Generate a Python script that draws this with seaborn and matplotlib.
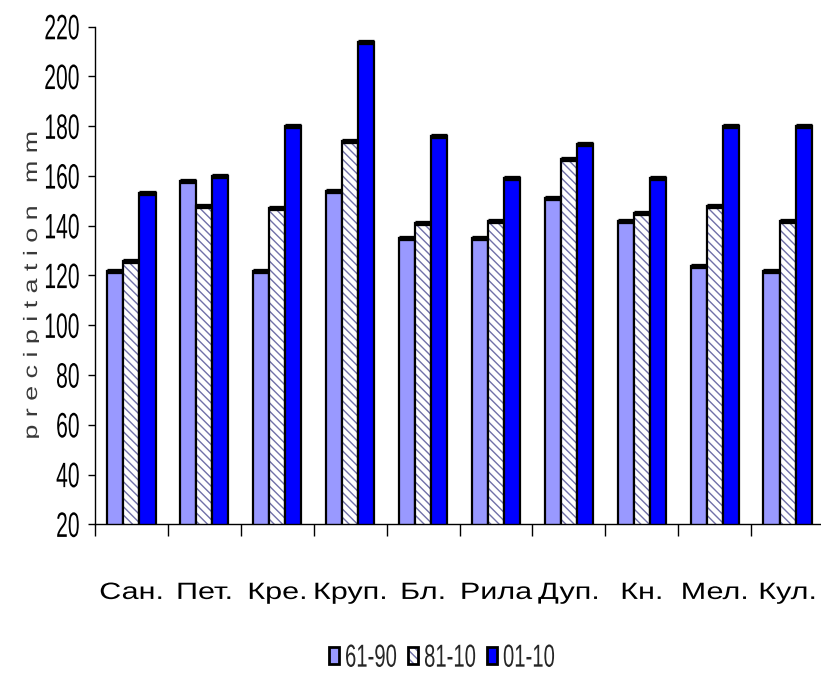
import matplotlib
matplotlib.use("Agg")
import matplotlib.pyplot as plt
from matplotlib.colors import to_rgba
from matplotlib.patheffects import AbstractPathEffect
from matplotlib.transforms import Affine2D, Bbox, TransformedBbox
from matplotlib.ticker import FixedLocator, NullFormatter
import pandas as pd
import seaborn as sns

# Precipitation (mm) per station for three reference periods
stations = ["Сан.", "Пет.", "Кре.", "Круп.", "Бл.", "Рила", "Дуп.", "Кн.", "Мел.", "Кул."]
periods = ["61-90", "81-10", "01-10"]
p_61_90 = [122, 158, 122, 154, 135, 135, 151, 142, 124, 122]
p_81_10 = [126, 148, 147, 174, 141, 142, 167, 145, 148, 142]
p_01_10 = [153, 160, 180, 214, 176, 159, 173, 159, 180, 180]
y_ticks = [20, 40, 60, 80, 100, 120, 140, 160, 180, 200, 220]
y_label = "p r e c i p i t a t i o n   m m"

bar_colors = ["#9999FF", "#FFFFFF", "#0000FF"]
hatch_color = "#7070A8"


class Stretch(AbstractPathEffect):
    """Draw text glyphs rescaled in their own frame (x along the baseline).

    Glyph outlines arrive in font units (100 per em); the y scale is taken
    about mid cap height so the text keeps its vertical alignment.
    """

    def __init__(self, sx=1.0, sy=1.0, anchor="center", y0=36.0):
        super().__init__()
        self.sx, self.sy = sx, sy
        self.anchor = anchor
        self.y0 = y0

    def draw_path(self, renderer, gc, tpath, affine, rgbFace=None):
        ext = tpath.get_extents()
        x0 = {"left": 0.0, "center": 0.5 * (ext.x0 + ext.x1), "right": ext.x1}[self.anchor]
        pre = (Affine2D().translate(-x0, -self.y0)
               .scale(self.sx, self.sy).translate(x0, self.y0))
        renderer.draw_path(gc, tpath, pre + affine, rgbFace)


sns.set_theme(style="white")
plt.rcParams["font.family"] = ["Liberation Sans", "DejaVu Sans"]
plt.rcParams["hatch.linewidth"] = 1.0

df = pd.DataFrame({
    "station": stations * 3,
    "period": [p for p in periods for _ in stations],
    "value": p_61_90 + p_81_10 + p_01_10,
})

W, H = 821, 676
fig = plt.figure(figsize=(W / 100, H / 100), dpi=100)
ax = fig.add_axes([95 / W, (H - 524.3) / H, 729 / W, 497.6 / H])

sns.barplot(data=df, x="station", y="value", hue="period", order=stations,
            hue_order=periods, palette=bar_colors, saturation=1, width=0.66,
            edgecolor="black", linewidth=1.6, legend=False, ax=ax)

# Diagonal hatching on the middle period
for p in ax.containers[1].patches:
    p.set_hatch("\\\\\\\\")
    if hasattr(p, "set_hatchcolor"):
        p.set_hatchcolor(hatch_color)
    else:
        p._hatch_color = to_rgba(hatch_color)

# Heavier top edge on every bar
for cont in ax.containers:
    for p in cont.patches:
        ax.hlines(p.get_height(), p.get_x(), p.get_x() + p.get_width(),
                  colors="black", linewidth=3.8, zorder=3)

ax.set_ylim(y_ticks[0], y_ticks[-1])
ax.set_xlim(-0.5, len(stations) - 0.5)
ax.set_yticks(y_ticks)
ax.set_yticklabels([str(v) for v in y_ticks], fontsize=15.2, color="black")
for lab in ax.get_yticklabels():
    lab.set_path_effects([Stretch(1.0, 1.67, "right")])
ax.tick_params(axis="y", left=True, length=5, width=1, color="black", pad=6)

ax.set_xticks(range(len(stations)))
ax.set_xticklabels(stations, fontsize=22, color="black")
for lab in ax.get_xticklabels():
    lab.set_path_effects([Stretch(1.0, 0.77, "center")])
ax.tick_params(axis="x", which="major", length=0, pad=39)
ax.xaxis.set_minor_locator(FixedLocator([i - 0.5 for i in range(len(stations) + 1)]))
ax.xaxis.set_minor_formatter(NullFormatter())
ax.tick_params(axis="x", which="minor", bottom=True, length=8.6, width=1, color="black")

ax.set_xlabel("")
ax.set_ylabel("")
sns.despine(ax=ax)
for side in ["left", "bottom"]:
    ax.spines[side].set_color("black")
    ax.spines[side].set_linewidth(1.0)

# Rotated axis title, cut along its baseline
t = fig.text(37 / W, 1 - 285 / H, y_label, rotation=90, rotation_mode="anchor",
             ha="center", va="baseline", fontsize=14, color="#3a3a3a")
t.set_path_effects([Stretch(1.38, 1.0, "center")])
t.set_clip_box(TransformedBbox(Bbox([[0, 0], [38.5 / W, 1]]), fig.transFigure))
t.set_clip_on(True)

handles = [c.patches[0] for c in ax.containers]
leg = fig.legend(handles, periods, loc="center left", bbox_to_anchor=(329 / W, 1 - 657 / H),
                 ncol=3, frameon=False, handlelength=0.49, handleheight=0.84,
                 handletextpad=0.3, columnspacing=0.55, borderpad=0, borderaxespad=0,
                 fontsize=14.6)
for txt in leg.get_texts():
    txt.set_path_effects([Stretch(1.0, 1.57, "left")])
for h in leg.legend_handles:
    h.set_linewidth(2.0)

fig.savefig("out.png", dpi=100)
